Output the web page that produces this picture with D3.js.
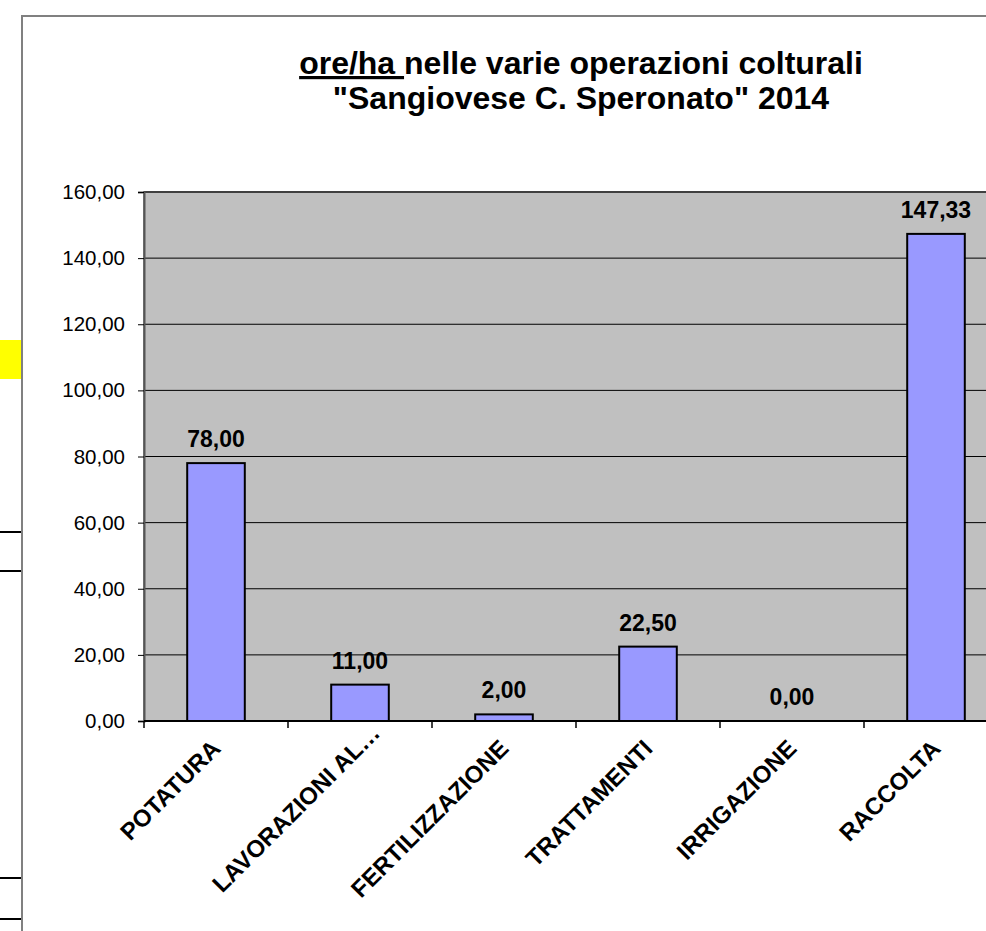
<!DOCTYPE html>
<html>
<head>
<meta charset="utf-8">
<script src="https://cdn.jsdelivr.net/npm/d3@7"></script>
<style>
  body { margin: 0; background: #fff; }
  svg { display: block; font-family: Arial, "Liberation Sans", sans-serif; }
</style>
</head>
<body>
<svg width="986" height="931"></svg>
<script>
// data
const categories = ['POTATURA', 'LAVORAZIONI AL…', 'FERTILIZZAZIONE', 'TRATTAMENTI', 'IRRIGAZIONE', 'RACCOLTA']
const values = [78.00, 11.00, 2.00, 22.50, 0.00, 147.33]
const yTicks = [0, 20, 40, 60, 80, 100, 120, 140, 160]

const svg = d3.select('svg'),
    plot = {left: 144, top: 192, right: 1008, bottom: 721},
    it = d3.formatLocale({decimal: ',', thousands: '.', grouping: [3], currency: ['', '€']}),
    fmt = it.format('.2f')

const x = d3.scaleBand()
    .domain(categories)
    .range([plot.left, plot.right])
    .paddingInner(0.6)
    .paddingOuter(0.3)

const y = d3.scaleLinear().domain([0, 160]).range([plot.bottom, plot.top])

// spreadsheet cells peeking out on the left
svg.append('rect').attr('x', 0).attr('y', 340).attr('width', 22).attr('height', 39).attr('fill', '#ffff00')
svg.selectAll('.cell').data([532, 571, 878, 919]).enter().append('line')
    .attr('x1', 0).attr('x2', 22).attr('y1', d => d).attr('y2', d => d)
    .attr('stroke', '#000').attr('stroke-width', 2)

// chart frame
svg.append('rect').attr('x', 22).attr('y', 16).attr('width', 1000).attr('height', 1000)
    .attr('fill', '#fff').attr('stroke', '#808080').attr('stroke-width', 2)

// title
const title = svg.append('text').attr('text-anchor', 'middle').attr('font-weight', 'bold')
    .attr('font-size', 32).attr('fill', '#000')
const t1 = title.append('tspan').attr('x', 581).attr('y', 74)
t1.append('tspan').attr('text-decoration', 'underline').text('ore/ha\u00a0')
t1.append('tspan').text('nelle varie operazioni colturali')
title.append('tspan').attr('x', 581).attr('y', 109).text('"Sangiovese C. Speronato" 2014')

// plot area
svg.append('rect')
    .attr('x', plot.left).attr('y', plot.top)
    .attr('width', plot.right - plot.left).attr('height', plot.bottom - plot.top)
    .attr('fill', '#c0c0c0').attr('stroke', '#808080').attr('stroke-width', 2)

svg.append('g').selectAll('line').data(yTicks.slice(1)).enter().append('line')
    .attr('x1', plot.left).attr('x2', plot.right)
    .attr('y1', d => y(d)).attr('y2', d => y(d))
    .attr('stroke', '#000').attr('stroke-width', 1)

// y axis
const yAxis = svg.append('g')
    .attr('transform', 'translate(' + plot.left + ',0)')
    .call(d3.axisLeft(y).tickValues(yTicks).tickSize(6).tickPadding(13).tickFormat(fmt))
yAxis.select('.domain').attr('stroke', '#555').attr('stroke-width', 2)
yAxis.selectAll('.tick line').attr('stroke', '#000')
yAxis.selectAll('text').attr('font-size', 20.5).attr('fill', '#000').attr('font-family', 'Arial, "Liberation Sans", sans-serif')

// bars
svg.append('g').selectAll('rect').data(values).enter().append('rect')
    .attr('x', (d, i) => x(categories[i]))
    .attr('y', d => y(d))
    .attr('width', x.bandwidth())
    .attr('height', d => y(0) - y(d))
    .attr('fill', d => d > 0 ? '#9999ff' : 'none')
    .attr('stroke', d => d > 0 ? '#000' : 'none')
    .attr('stroke-width', 2)

// value labels
svg.append('g').selectAll('text').data(values).enter().append('text')
    .attr('x', (d, i) => x(categories[i]) + x.bandwidth() / 2)
    .attr('y', d => y(d) - 16)
    .attr('text-anchor', 'middle').attr('font-weight', 'bold').attr('font-size', 23)
    .text(d => fmt(d))

// x axis line and ticks between categories
const step = x.step()
svg.append('line')
    .attr('x1', plot.left).attr('x2', plot.right)
    .attr('y1', plot.bottom).attr('y2', plot.bottom)
    .attr('stroke', '#000').attr('stroke-width', 2)
svg.append('g').selectAll('line').data(d3.range(categories.length + 1)).enter().append('line')
    .attr('x1', i => plot.left + i * step).attr('x2', i => plot.left + i * step)
    .attr('y1', plot.bottom).attr('y2', plot.bottom + 7)
    .attr('stroke', '#000').attr('stroke-width', 1.5)

// rotated category labels
svg.append('g').selectAll('text').data(categories).enter().append('text')
    .attr('transform', d => 'translate(' + (x(d) + x.bandwidth() / 2 + 6) + ',' + (plot.bottom + 29) + ') rotate(-45)')
    .attr('dx', d => d.endsWith('…') ? 22 : 0)
    .attr('text-anchor', 'end').attr('font-weight', 'bold').attr('font-size', 24)
    .text(d => d)
</script>
</body>
</html>
